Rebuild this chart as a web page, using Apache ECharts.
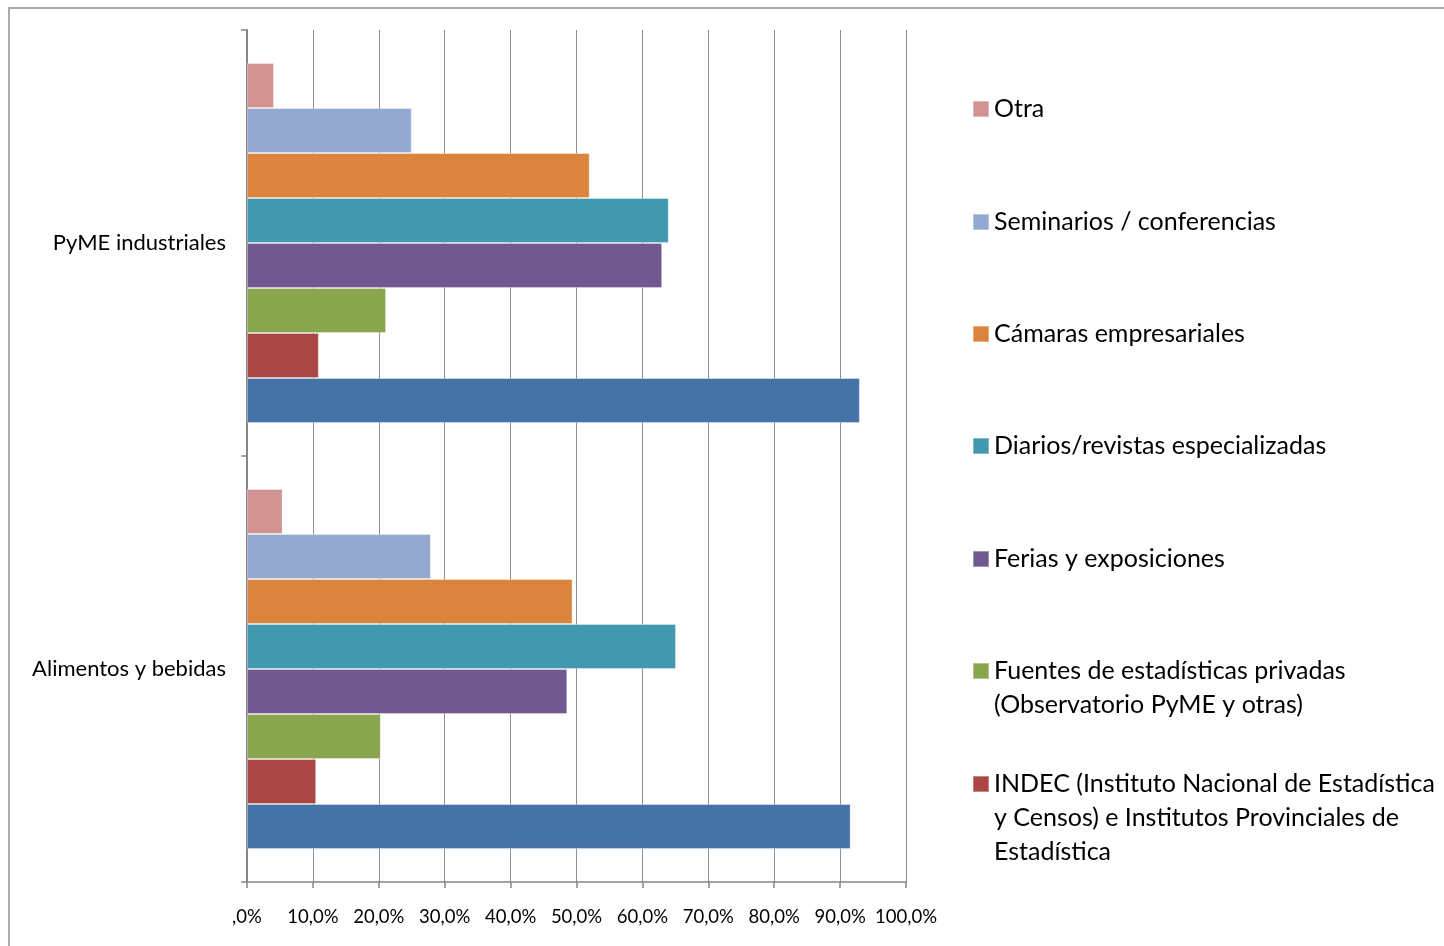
<!DOCTYPE html>
<html>
<head>
<meta charset="utf-8">
<script src="https://cdn.jsdelivr.net/npm/echarts@6/dist/echarts.min.js"></script>
<style>
html,body{margin:0;padding:0;background:#fff;}
#chart{width:1444px;height:946px;}
</style>
</head>
<body>
<div id="chart"></div>
<script>
// Categories (bottom to top on the y axis)
var categories = ['Alimentos y bebidas', 'PyME industriales'];
// Tick labels of the value axis
var tickLabels = [',0%', '10,0%', '20,0%', '30,0%', '40,0%', '50,0%', '60,0%', '70,0%', '80,0%', '90,0%', '100,0%'];
// Series names (top to bottom inside each group)
var seriesNames = [
  'Otra',
  'Seminarios / conferencias',
  'Cámaras empresariales',
  'Diarios/revistas especializadas',
  'Ferias y exposiciones',
  'Fuentes de estadísticas privadas\n(Observatorio PyME y otras)',
  'INDEC (Instituto Nacional de Estadística\ny Censos) e Institutos Provinciales de\nEstadística',
  'Serie 1'
];
// Values in % : [Alimentos y bebidas, PyME industriales]
var otra = [5.4, 4.1];
var seminarios = [27.9, 25.0];
var camaras = [49.4, 52.0];
var diarios = [65.1, 64.0];
var ferias = [48.6, 63.0];
var fuentes = [20.3, 21.1];
var indec = [10.5, 10.9];
var serie1 = [91.6, 93.0];

var seriesValues = [otra, seminarios, camaras, diarios, ferias, fuentes, indec, serie1];
var colors = ['#D09391', '#93A9CF', '#DB843D', '#4198AF', '#71588F', '#89A54E', '#AA4643', '#4572A7'];

var chart = echarts.init(document.getElementById('chart'));

var FONT = 'Lato';
var LFS = 25;
var LH = 34;
var legendFirstLineY = [108, 221, 333, 445, 558, 670, 783];
var legends = [];
for (var i = 0; i < 7; i++) {
  var nLines = seriesNames[i].split('\n').length;
  var offset = (nLines - 1) * LH + 16;
  legends.push({
    orient: 'vertical',
    left: 972,
    top: legendFirstLineY[i] - offset,
    padding: 0,
    itemWidth: 16,
    itemHeight: 16,
    icon: 'rect',
    selectedMode: false,
    textStyle: { fontFamily: FONT, fontSize: LFS, color: '#000', lineHeight: LH },
    formatter: (function (n) {
      return function (name) {
        var pre = '';
        for (var k = 1; k < n; k++) pre += '\n';
        return pre + name;
      };
    })(nLines),
    data: [seriesNames[i]]
  });
}

var series = seriesValues.map(function (vals, i) {
  return {
    name: seriesNames[i],
    type: 'bar',
    data: vals,
    barGap: '0%',
    barCategoryGap: '15.5%',
    itemStyle: { color: colors[i], borderColor: 'rgba(255,255,255,0.35)', borderWidth: 1 },
    animation: false
  };
});

chart.setOption({
  animation: false,
  color: colors,
  graphic: [{
    type: 'rect',
    shape: { x: 9, y: 8, width: 1500, height: 1000 },
    style: { fill: 'none', stroke: '#ababab', lineWidth: 2 },
    silent: true
  }],
  legend: legends,
  grid: { left: 247, right: 538, top: 30, bottom: 64 },
  xAxis: {
    type: 'value',
    min: 0,
    max: 100,
    interval: 10,
    axisLine: { show: true, lineStyle: { color: '#868686', width: 1.5 } },
    axisTick: { show: true, length: 6, lineStyle: { color: '#868686', width: 1.5 } },
    splitLine: { show: true, lineStyle: { color: '#8f8f8f', width: 1 } },
    axisLabel: {
      margin: 26,
      fontFamily: FONT,
      fontSize: 18.5,
      color: '#000',
      formatter: function (v) { return tickLabels[Math.round(v / 10)]; }
    }
  },
  yAxis: {
    type: 'category',
    data: categories,
    axisLine: { show: true, lineStyle: { color: '#868686', width: 2 } },
    axisTick: { show: true, length: 6, lineStyle: { color: '#868686', width: 1.5 } },
    axisLabel: { margin: 21, fontFamily: FONT, fontSize: 22, color: '#000' },
    splitLine: { show: false }
  },
  series: series
});
</script>
</body>
</html>
